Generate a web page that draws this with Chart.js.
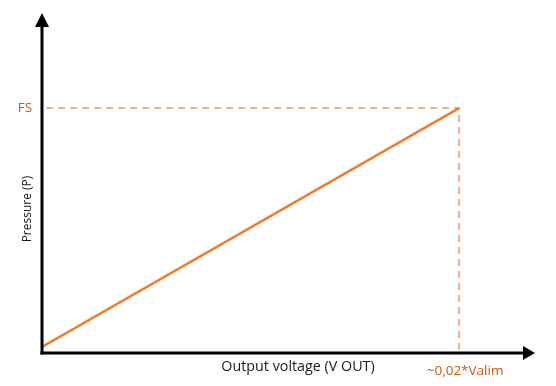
<!DOCTYPE html>
<html>
<head>
<meta charset="utf-8">
<script src="https://cdn.jsdelivr.net/npm/chart.js@4/dist/chart.umd.min.js"></script>
<style>
  html, body { margin: 0; padding: 0; background: #ffffff; }
  #wrap { width: 556px; height: 386px; }
</style>
</head>
<body>
<div id="wrap"><canvas id="c" width="556" height="386"></canvas></div>
<script>
// ---- data ----
const voltage = [0, 0.02];            // output voltage (fraction of Valim)
const pressure = [0.025, 1];          // pressure (fraction of FS)
const guideX = [0.0002, 0.02, 0.02];  // dashed guide: FS level and Vout at FS
const guideY = [1, 1, 0.01];
const yTickValues = [1];
const yTickLabels = ['FS'];
const xTickValues = [0.02];
const xTickLabels = ['~0,02*Valim'];
const xTitle = 'Output voltage (V OUT)';
const yTitle = 'Pressure (P)';
const xMax = 0.02364;
const yMax = 1.388;

const FONT = '"Open Sans", "Liberation Sans", sans-serif';
const LABEL_ORANGE = '#C55A11';

const axesPlugin = {
  id: 'arrowAxes',
  afterDatasetsDraw(chart) {
    const ctx = chart.ctx;
    const xs = chart.scales.x, ys = chart.scales.y;
    const x0 = xs.getPixelForValue(0);
    const y0 = ys.getPixelForValue(0);
    const xEnd = xs.getPixelForValue(xMax);
    const yEnd = ys.getPixelForValue(yMax);
    ctx.save();
    ctx.strokeStyle = '#000';
    ctx.fillStyle = '#000';
    ctx.lineWidth = 3;
    // y axis
    ctx.beginPath();
    ctx.moveTo(x0, y0 + 1.5);
    ctx.lineTo(x0, yEnd + 12);
    ctx.stroke();
    ctx.beginPath();
    ctx.moveTo(x0, yEnd);
    ctx.lineTo(x0 - 7, yEnd + 14);
    ctx.lineTo(x0 + 7, yEnd + 14);
    ctx.closePath();
    ctx.fill();
    // x axis
    ctx.beginPath();
    ctx.moveTo(x0 - 1.5, y0);
    ctx.lineTo(xEnd - 10, y0);
    ctx.stroke();
    ctx.beginPath();
    ctx.moveTo(xEnd, y0);
    ctx.lineTo(xEnd - 12, y0 - 7);
    ctx.lineTo(xEnd - 12, y0 + 7);
    ctx.closePath();
    ctx.fill();

    // tick labels
    ctx.font = '13.5px ' + FONT;
    ctx.fillStyle = LABEL_ORANGE;
    ctx.textBaseline = 'middle';
    ctx.textAlign = 'center';
    yTickValues.forEach((v, i) => {
      ctx.fillText(yTickLabels[i], 25, ys.getPixelForValue(v));
    });
    xTickValues.forEach((v, i) => {
      ctx.fillText(xTickLabels[i], xs.getPixelForValue(v) + 6, y0 + 18);
    });

    // titles
    ctx.fillStyle = '#1a1a1a';
    ctx.font = '14.3px ' + FONT;
    ctx.fillText(xTitle, 298, y0 + 14);
    ctx.font = '12px ' + FONT;
    ctx.save();
    ctx.translate(28, 209);
    ctx.rotate(-Math.PI / 2);
    ctx.fillText(yTitle, 0, 0);
    ctx.restore();
    ctx.restore();
  }
};

new Chart(document.getElementById('c'), {
  type: 'scatter',
  data: {
    datasets: [
      {
        data: guideX.map((x, i) => ({ x: x, y: guideY[i] })),
        showLine: true,
        borderColor: '#F4B183',
        borderWidth: 2,
        borderDash: [7, 5],
        pointRadius: 0,
        fill: false,
        order: 2
      },
      {
        data: voltage.map((x, i) => ({ x: x, y: pressure[i] })),
        showLine: true,
        borderColor: '#ED7D31',
        borderWidth: 2.5,
        pointRadius: 0,
        fill: false,
        order: 1
      }
    ]
  },
  options: {
    responsive: false,
    animation: false,
    devicePixelRatio: 1,
    layout: { padding: { left: 42, top: 13, right: 21, bottom: 33 } },
    plugins: { legend: { display: false }, tooltip: { enabled: false } },
    scales: {
      x: { type: 'linear', min: 0, max: xMax, display: false },
      y: { type: 'linear', min: 0, max: yMax, display: false }
    }
  },
  plugins: [axesPlugin]
});
</script>
</body>
</html>
